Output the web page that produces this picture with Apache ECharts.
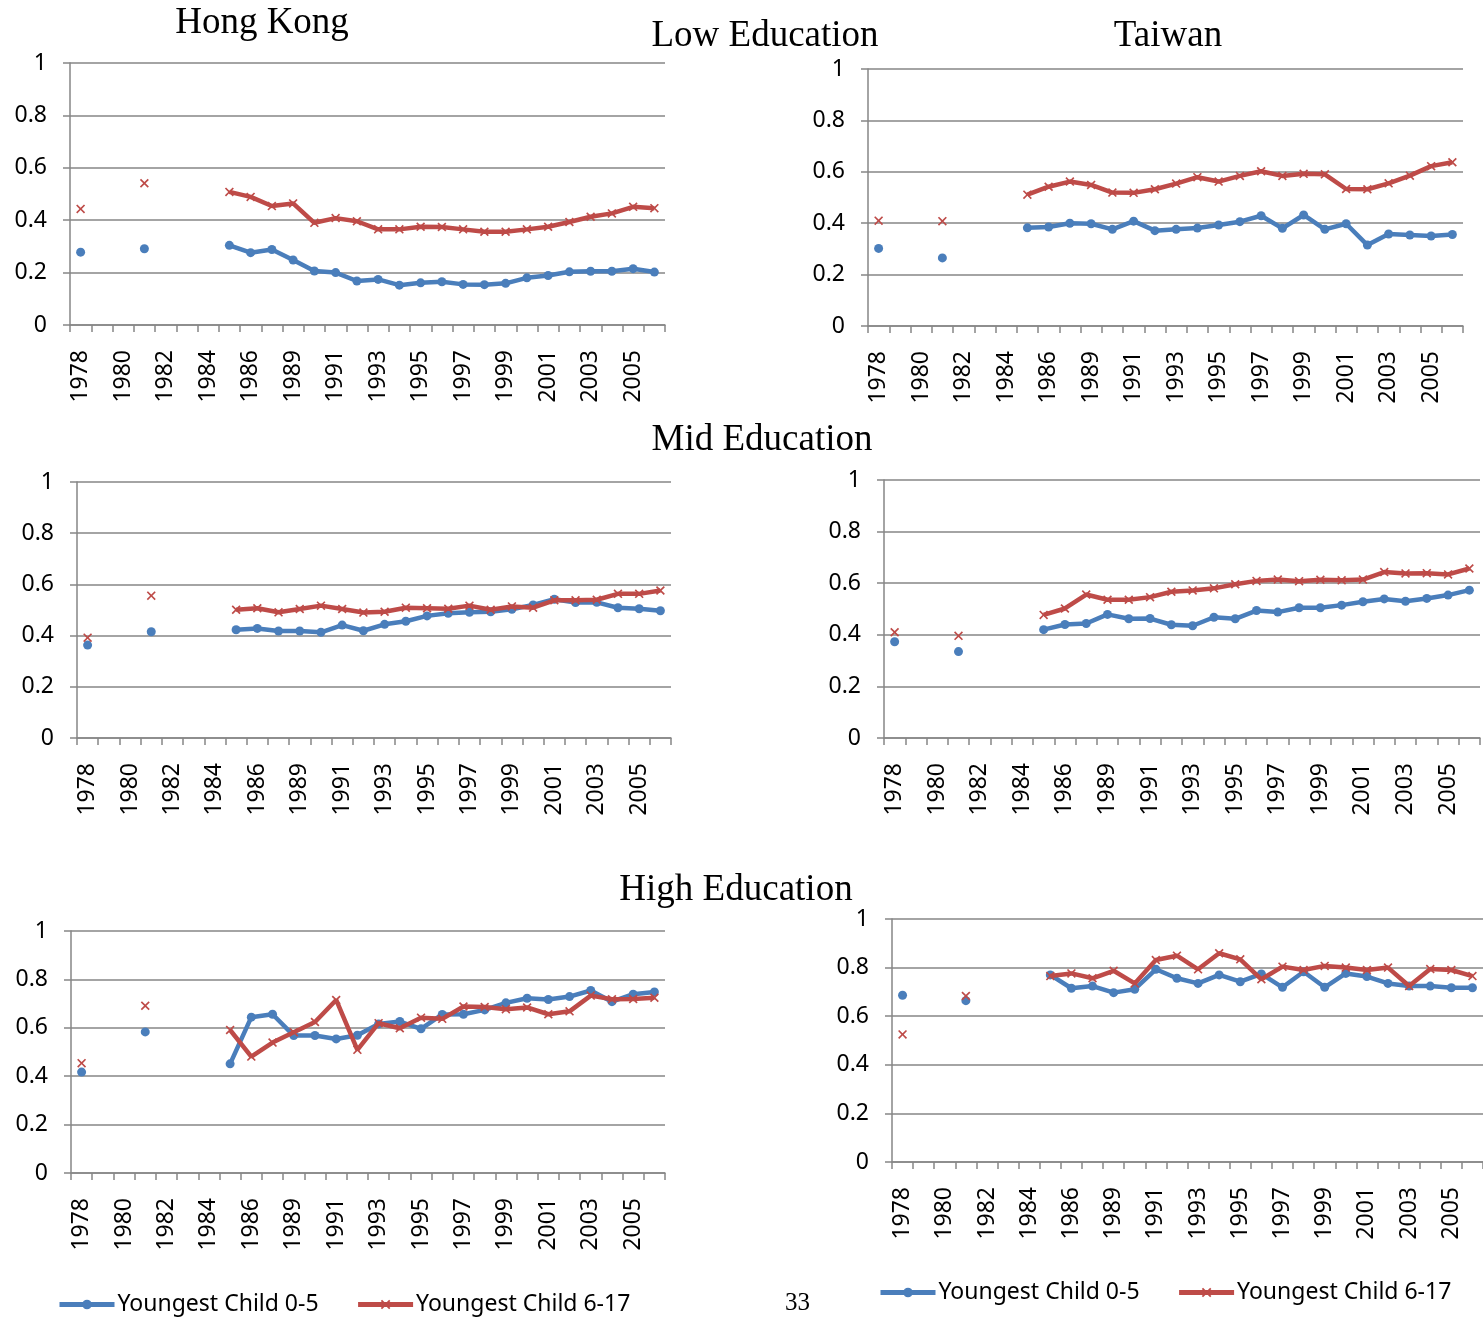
<!DOCTYPE html>
<html>
<head>
<meta charset="utf-8">
<script src="https://cdn.jsdelivr.net/npm/echarts@6/dist/echarts.min.js"></script>
<style>html,body{margin:0;padding:0;background:#fff}#c{width:1483px;height:1321px}</style>
</head>
<body>
<div id="c"></div>
<script>
// Categories (x axis)
const years = ['1978','1979','1980','1981','1982','1983','1984','1985','1986','1987','1989','1990','1991','1992','1993','1994','1995','1996','1997','1998','1999','2000','2001','2002','2003','2004','2005','2006'];
const yTicks = [0, 0.2, 0.4, 0.6, 0.8, 1];

// Low education
const hkLow05  = [0.278,null,null,0.291,null,null,null,0.304,0.276,0.288,0.248,0.206,0.200,0.168,0.174,0.152,0.161,0.165,0.155,0.154,0.159,0.180,0.189,0.203,0.205,0.205,0.215,0.202];
const hkLow617 = [0.443,null,null,0.541,null,null,null,0.508,0.489,0.454,0.464,0.390,0.408,0.396,0.365,0.365,0.375,0.374,0.365,0.356,0.356,0.365,0.375,0.393,0.413,0.426,0.451,0.446];
const twLow05  = [0.302,null,null,0.265,null,null,null,0.382,0.385,0.400,0.398,0.376,0.408,0.371,0.376,0.381,0.393,0.406,0.429,0.380,0.432,0.376,0.398,0.315,0.358,0.354,0.350,0.356];
const twLow617 = [0.410,null,null,0.408,null,null,null,0.511,0.542,0.562,0.549,0.519,0.518,0.532,0.554,0.579,0.562,0.584,0.602,0.584,0.592,0.590,0.533,0.532,0.555,0.585,0.622,0.637];
// Mid education
const hkMid05  = [0.363,null,null,0.415,null,null,null,0.423,0.428,0.418,0.418,0.413,0.441,0.419,0.444,0.456,0.477,0.487,0.491,0.493,0.503,0.520,0.542,0.529,0.530,0.509,0.505,0.497];
const hkMid617 = [0.392,null,null,0.556,null,null,null,0.501,0.507,0.491,0.504,0.517,0.504,0.490,0.493,0.509,0.507,0.505,0.517,0.501,0.514,0.509,0.538,0.538,0.540,0.563,0.563,0.576];
const twMid05  = [0.373,null,null,0.335,null,null,null,0.420,0.440,0.444,0.479,0.462,0.463,0.439,0.435,0.468,0.462,0.494,0.488,0.505,0.505,0.515,0.528,0.539,0.530,0.541,0.554,0.573];
const twMid617 = [0.410,null,null,0.396,null,null,null,0.477,0.502,0.556,0.536,0.536,0.546,0.567,0.572,0.580,0.596,0.609,0.614,0.608,0.613,0.611,0.614,0.643,0.638,0.639,0.634,0.657];
// High education
const hkHigh05  = [0.417,null,null,0.583,null,null,null,0.451,0.644,0.656,0.568,0.568,0.554,0.569,0.616,0.626,0.596,0.655,0.656,0.674,0.703,0.722,0.717,0.729,0.754,0.708,0.739,0.748];
const hkHigh617 = [0.454,null,null,0.691,null,null,null,0.591,0.481,0.539,0.582,0.624,0.715,0.509,0.619,0.598,0.642,0.637,0.688,0.686,0.677,0.684,0.656,0.668,0.733,0.718,0.719,0.724];
const twHigh05  = [0.686,null,null,0.664,null,null,null,0.770,0.715,0.724,0.697,0.711,0.793,0.756,0.735,0.770,0.742,0.774,0.719,0.783,0.719,0.776,0.763,0.735,0.724,0.724,0.717,0.717];
const twHigh617 = [0.525,null,null,0.683,null,null,null,0.765,0.776,0.756,0.787,0.735,0.831,0.849,0.793,0.859,0.834,0.752,0.804,0.790,0.807,0.800,0.790,0.800,0.724,0.794,0.790,0.765];

const NAME_A = 'Youngest Child 0-5';
const NAME_B = 'Youngest Child 6-17';
const BLUE = '#4A7EBB';
const RED = '#BE4B48';
const GRAY = '#868686';
const XSYM = 'path://M0,1.3L1.3,0L5,3.7L8.7,0L10,1.3L6.3,5L10,8.7L8.7,10L5,6.3L1.3,10L0,8.7L3.7,5Z';
const LABEL_FONT = 'Noto Sans';

const panels = [
  {grid:{left:70, right:818, top:63, height:262}, a:hkLow05, b:hkLow617},
  {grid:{left:868, right:20, top:69, height:257}, a:twLow05, b:twLow617},
  {grid:{left:77, right:812, top:482, height:256}, a:hkMid05, b:hkMid617},
  {grid:{left:884, right:3, top:480, height:258}, a:twMid05, b:twMid617},
  {grid:{left:71, right:818, top:931, height:242}, a:hkHigh05, b:hkHigh617},
  {grid:{left:892, right:0, top:919, height:243}, a:twHigh05, b:twHigh617}
];

const grids = [], xAxes = [], yAxes = [], series = [];
panels.forEach((p, i) => {
  grids.push(Object.assign({containLabel:false}, p.grid));
  xAxes.push({
    type:'category', gridIndex:i, data:years, boundaryGap:true,
    axisLine:{show:true, lineStyle:{color:GRAY, width:1.5}},
    axisTick:{show:true, interval:0, length:7, lineStyle:{color:GRAY, width:1.5}},
    axisLabel:{interval:1, rotate:90, margin:25, color:'#000', fontFamily:LABEL_FONT, fontSize:23},
    splitLine:{show:false}
  });
  yAxes.push({
    type:'value', gridIndex:i, min:yTicks[0], max:yTicks[yTicks.length-1], interval:0.2,
    axisLine:{show:true, lineStyle:{color:GRAY, width:1.5}},
    axisTick:{show:true, length:7, lineStyle:{color:GRAY, width:1.5}},
    axisLabel:{margin:23, color:'#000', fontFamily:LABEL_FONT, fontSize:23},
    splitLine:{show:true, lineStyle:{color:GRAY, width:1.5}}
  });
  series.push({
    name:NAME_A, type:'line', xAxisIndex:i, yAxisIndex:i, data:p.a,
    connectNulls:false, showSymbol:true, showAllSymbol:true,
    symbol:'circle', symbolSize:9,
    lineStyle:{color:BLUE, width:4.5}, itemStyle:{color:BLUE},
    emphasis:{disabled:true}, z:2
  });
  series.push({
    name:NAME_B, type:'line', xAxisIndex:i, yAxisIndex:i, data:p.b,
    connectNulls:false, showSymbol:true, showAllSymbol:true,
    symbol:XSYM, symbolSize:9,
    lineStyle:{color:RED, width:4.5}, itemStyle:{color:RED},
    emphasis:{disabled:true}, z:3
  });
});

const titleFont = {fontFamily:'Liberation Serif', fontWeight:'normal', fontSize:37, color:'#000'};
const titles = [
  {text:'Hong Kong', left:262, top:5},
  {text:'Low Education', left:765, top:18},
  {text:'Taiwan', left:1168, top:18},
  {text:'Mid Education', left:762, top:422},
  {text:'High Education', left:736, top:872}
].map(t => Object.assign({textAlign:'center', padding:0, textStyle:titleFont}, t));

const legendBase = {
  data:[NAME_A, NAME_B], itemWidth:55, itemHeight:12, itemGap:37, padding:0,
  selectedMode:false,
  lineStyle:{width:5},
  textStyle:{fontFamily:LABEL_FONT, fontSize:23, color:'#000', padding:[0,0,0,-2]}
};

const chart = echarts.init(document.getElementById('c'), null, {renderer:'canvas'});
chart.setOption({
  animation:false,
  backgroundColor:'#fff',
  title:titles,
  grid:grids, xAxis:xAxes, yAxis:yAxes, series:series,
  legend:[
    Object.assign({left:57, top:1293}, legendBase),
    Object.assign({left:878, top:1281}, legendBase)
  ],
  graphic:[{type:'text', left:785, top:1291, style:{text:'33', font:'25px "Liberation Serif"', fill:'#000'}}]
});
</script>
</body>
</html>
